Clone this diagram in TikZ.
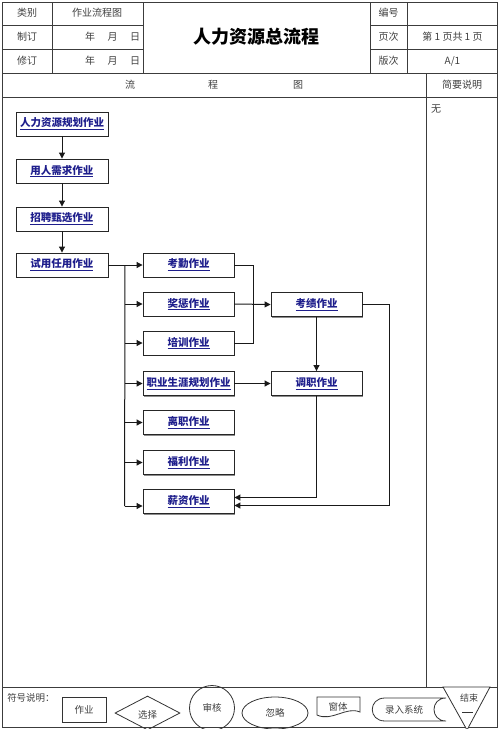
\documentclass[tikz,border=0pt]{standalone}
\usepackage{fontspec}
\setmainfont{Noto Sans CJK SC}
\usetikzlibrary{arrows.meta,shapes.geometric,calc,shadows}
\definecolor{linkblue}{RGB}{30,30,140}
\definecolor{framec}{RGB}{60,60,60}
\begin{document}
\begin{tikzpicture}[x=1pt,y=-1pt,
  tbl/.style={draw=framec,line width=0.9pt},
  hdr/.style={font=\fontsize{10}{12}\selectfont,text=black!75,inner sep=0},
  proc/.style={draw=black!85,line width=0.9pt,fill=white,minimum width=91pt,minimum height=24pt,inner sep=0,
    font=\bfseries\fontsize{10.5}{12}\selectfont,text=linkblue,
    general shadow={fill=black!45,shadow xshift=1.2pt,shadow yshift=-1.2pt}},
  conn/.style={draw=black!90,line width=1pt},
  arr/.style={conn,-{Triangle[length=6pt,width=6pt]}},
  leg/.style={draw=black!80,line width=0.8pt,font=\fontsize{9.5}{11}\selectfont,text=black!75,inner sep=0},
  ]
\useasboundingbox (0,0) rectangle (500,729);
\fill[white] (0,0) rectangle (500,729);

% ---------- table frame ----------
\draw[tbl] (2,2) rectangle (497,727);
\draw[tbl] (2,25) -- (143,25) (2,49) -- (143,49);
\draw[tbl] (370,25) -- (497,25) (370,49) -- (497,49);
\draw[tbl] (2,73) -- (497,73) (2,97) -- (497,97);
\draw[tbl] (52,2) -- (52,73) (143,2) -- (143,73) (370,2) -- (370,73) (407,2) -- (407,73);
\draw[tbl] (426,73) -- (426,687);
\draw[tbl] (2,687) -- (497,687);

% ---------- header texts ----------
\node[hdr] (h1) at (27,13) {类别};
\node[hdr] (h2) at (97,13) {作业流程图};
\node[hdr] (h3) at (27,37) {制订};
\node[hdr] (h4) at (112.5,37) {年\hspace{1.25em}月\hspace{1.25em}日};
\node[hdr] (h5) at (27,61) {修订};
\node[hdr] (h6) at (112.5,61) {年\hspace{1.25em}月\hspace{1.25em}日};
\node[inner sep=0,font=\bfseries\fontsize{18}{20}\selectfont] (title) at (256.5,37) {人力资源总流程};
\node[hdr] (h7) at (388.5,13) {编号};
\node[hdr] (h8) at (388.5,37) {页次};
\node[hdr] (h9) at (388.5,61) {版次};
\node[hdr] (h10) at (452.5,37) {第 1 页共 1 页};
\node[hdr] (h11) at (452.5,61) {A/1};
\node[hdr] (f1) at (130,85) {流};
\node[hdr] (f2) at (213,85) {程};
\node[hdr] (f3) at (298,85) {图};
\node[hdr] (h12) at (462,85) {简要说明};
\node[hdr] (h13) at (436,109) {无};

% ---------- flow nodes ----------
\node[proc,minimum width=92pt] (a1) at (62,124) {\underline{人力资源规划作业}};
\node[proc,minimum width=92pt] (a2) at (62,171) {\underline{用人需求作业}};
\node[proc,minimum width=92pt] (a3) at (62,219) {\underline{招聘甄选作业}};
\node[proc,minimum width=92pt] (a4) at (62,265) {\underline{试用任用作业}};

\node[proc] (b1) at (188.5,265) {\underline{考勤作业}};
\node[proc] (b2) at (188.5,304) {\underline{奖惩作业}};
\node[proc] (b3) at (188.5,343) {\underline{培训作业}};
\node[proc] (b4) at (188.5,383.5) {\underline{职业生涯规划作业}};
\node[proc] (b5) at (188.5,422.5) {\underline{离职作业}};
\node[proc] (b6) at (188.5,462.5) {\underline{福利作业}};
\node[proc] (b7) at (188.5,501.5) {\underline{薪资作业}};

\node[proc] (c1) at (316.5,304.5) {\underline{考绩作业}};
\node[proc] (c2) at (316.5,383.5) {\underline{调职作业}};

% ---------- connectors ----------
\draw[arr] (a1) -- (a2);
\draw[arr] (a2) -- (a3);
\draw[arr] (a3) -- (a4);
\draw[arr] (a4) -- (b1);
\coordinate (t0) at (125,265);
\coordinate (t1) at ($(b7.west)+(-18,4.5)$);
\draw[conn] (t0) -- (t1);
\draw[arr] (t0 |- b2.west) -- (b2.west);
\draw[arr] (t0 |- b3.west) -- (b3.west);
\draw[arr] (t0 |- b4.west) -- (b4.west);
\draw[arr] (t0 |- b5.west) -- (b5.west);
\draw[arr] (t0 |- b6.west) -- (b6.west);
\draw[arr] (t1) -- ($(b7.west)+(0,4.5)$);

\coordinate (k1) at (253,265);
\draw[conn] (b1.east) -- (k1) |- (b3.east);
\draw[arr] (b2.east) -- (c1.west);
\draw[arr] (c1) -- (c2);
\draw[arr] (b4.east) -- (c2.west);
\draw[arr] (c2.south) |- ($(b7.east)+(0,-4)$);
\coordinate (k2) at (389,304.5);
\draw[arr] (c1.east) -- (k2) |- ($(b7.east)+(0,4)$);

% ---------- legend ----------
\node[hdr,font=\fontsize{9.5}{11}\selectfont] (sym) at (31,698) {符号说明：};
\node[leg,minimum width=44pt,minimum height=25pt] (lg1) at (84,709.5) {作业};
\node[leg,diamond,minimum width=65pt,minimum height=34pt,aspect=1.9] (lg2) at (147.5,713) {};
\node[leg,draw=none] (lg2t) at (147.5,715) {选择};
\node[leg,circle,minimum size=45pt] (lg3) at (212,708) {审核};
\node[leg,ellipse,minimum width=66pt,minimum height=32pt] (lg4) at (275,713) {};
\node[leg,draw=none] (lg4t) at (275,713) {忽略};
\draw[leg] (317,697) -- (360,697) -- (360,712) .. controls (346,706) and (332,722) .. (317,715) -- cycle;
\node[leg,draw=none] (lg5) at (338,707) {窗体};
\draw[leg] (385,698) -- (446,698) .. controls (430,698) and (430,721) .. (446,721) -- (385,721)
  .. controls (368,721) and (368,698) .. (385,698) -- cycle;
\node[leg,draw=none] (lg6) at (404,709.5) {录入系统};
\draw[leg,fill=white] (443,687) -- (490,687) -- (467,730) -- cycle;
\node[leg,draw=none,font=\fontsize{9}{10}\selectfont] (lg7) at (469,698) {结束};
\coordinate (e1) at (462,712);
\coordinate (e2) at (473,712);
\draw[leg] (e1) -- (e2);
\end{tikzpicture}
\end{document}
